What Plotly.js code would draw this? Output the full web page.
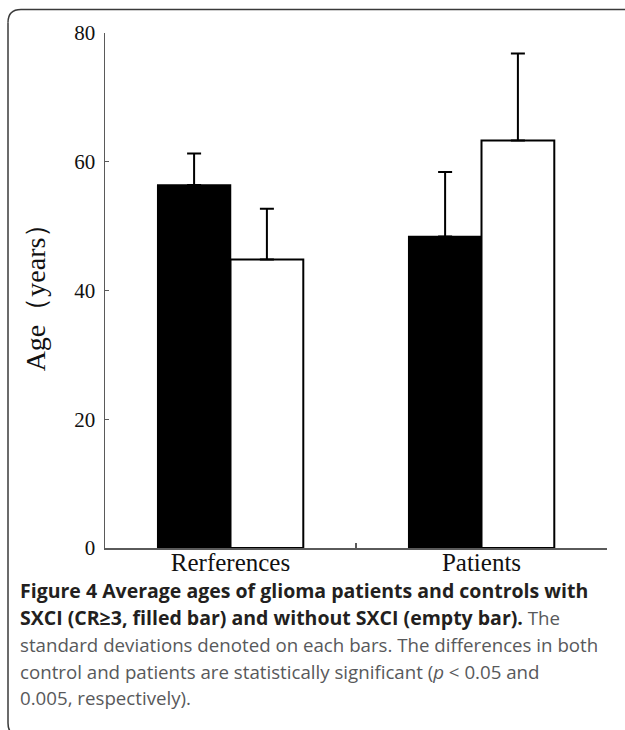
<!DOCTYPE html>
<html>
<head>
<meta charset="utf-8">
<script src="https://cdn.plot.ly/plotly-3.0.1.min.js"></script>
<style>
  html, body { margin: 0; padding: 0; background: #ffffff; overflow: hidden; }
  #chart { width: 625px; height: 730px; }
</style>
</head>
<body>
<div id="chart"></div>
<script>
// ---- data ----
const categories = ["Rerferences", "Patients"];
const withSXCI = [56.4, 48.4];       // filled bars
const withSXCI_sd = [4.9, 10.0];
const withoutSXCI = [44.8, 63.3];    // empty bars
const withoutSXCI_sd = [7.9, 13.5];
const noLower = [0, 0];
const yTicks = [0, 20, 40, 60, 80];

// caption lines
const B1 = "<span style='font-size:19.5px'><b>", B2 = "</b></span>";
const G1 = "<span style='color:#58595b'>", G2 = "</span>";
const captionLines = [
  B1 + "Figure 4 Average ages of glioma patients and controls with" + B2,
  B1 + "SXCI (CR\u22653, filled bar) and without SXCI (empty bar)." + B2 + " " + G1 + "The" + G2,
  G1 + "standard deviations denoted on each bars. The differences in both" + G2,
  G1 + "control and patients are statistically significant (<i>p</i> &lt; 0.05 and" + G2,
  G1 + "0.005, respectively)." + G2
];

// ---- layout geometry (pixels) ----
const W = 625, H = 730;
const L = 105, R = 607, T = 33, B = 548;
const px2x = p => (p - L) / (R - L);
const py2y = p => (B - p) / (B - T);

const captionY = [590, 617, 644, 671, 698];
const annotations = captionLines.map((txt, i) => ({
  xref: "paper", yref: "paper",
  x: px2x(18), y: py2y(captionY[i]),
  xanchor: "left", yanchor: "middle",
  text: txt, showarrow: false, align: "left",
  font: { family: "'Open Sans', 'Noto Sans', sans-serif", size: 18.7, color: "#231f20" }
}));

// rounded border: top and left edges with rounded corners (runs off canvas right/bottom)
const bl = 8, bt = 9.5, bb = 736, rad = 13;
const borderLine = { color: "#3a3a3a", width: 1.5 };
const shapes = [
  { type: "line", xref: "paper", yref: "paper", x0: px2x(bl + rad), y0: py2y(bt), x1: px2x(W), y1: py2y(bt), line: borderLine },
  { type: "line", xref: "paper", yref: "paper", x0: px2x(bl), y0: py2y(bt + rad), x1: px2x(bl), y1: py2y(bb - rad), line: borderLine },
  { type: "path", xref: "paper", yref: "paper", line: borderLine, fillcolor: "rgba(0,0,0,0)",
    path: `M ${px2x(bl + rad)},${py2y(bt)} Q ${px2x(bl)},${py2y(bt)} ${px2x(bl)},${py2y(bt + rad)}` },
  { type: "path", xref: "paper", yref: "paper", line: borderLine, fillcolor: "rgba(0,0,0,0)",
    path: `M ${px2x(bl)},${py2y(bb - rad)} Q ${px2x(bl)},${py2y(bb)} ${px2x(bl + rad)},${py2y(bb)}` }
];

const errStyle = { color: "#000000", thickness: 2, width: 7 };

const traces = [
  {
    type: "bar", name: "with SXCI", x: categories, y: withSXCI,
    marker: { color: "#000000", line: { color: "#000000", width: 1.5 } },
    error_y: Object.assign({ type: "data", array: withSXCI_sd, arrayminus: noLower, symmetric: false, visible: true }, errStyle)
  },
  {
    type: "bar", name: "without SXCI", x: categories, y: withoutSXCI,
    marker: { color: "#ffffff", line: { color: "#000000", width: 2 } },
    error_y: Object.assign({ type: "data", array: withoutSXCI_sd, arrayminus: noLower, symmetric: false, visible: true }, errStyle)
  }
];

const serif = "'Liberation Serif', 'Times New Roman', serif";

const layout = {
  width: W, height: H,
  margin: { l: L, r: W - R, t: T, b: H - B, pad: 0 },
  paper_bgcolor: "#ffffff", plot_bgcolor: "#ffffff",
  showlegend: false,
  barmode: "group", bargap: 0.42, bargroupgap: 0,
  xaxis: {
    type: "category",
    showline: true, linecolor: "#5a5a5a", linewidth: 1.5,
    ticks: "inside", tickson: "boundaries", ticklen: 5, tickwidth: 1.2, tickcolor: "#5a5a5a",
    showgrid: false, zeroline: false,
    tickfont: { family: serif, size: 25, color: "#111111" },
    ticklabelstandoff: -9,
    automargin: false
  },
  yaxis: {
    range: [0, 80], tickvals: yTicks, ticktext: yTicks.map(String),
    showline: true, linecolor: "#5a5a5a", linewidth: 1.5,
    ticks: "inside", ticklen: 4, tickwidth: 1.2, tickcolor: "#5a5a5a",
    showgrid: false, zeroline: false,
    tickfont: { family: serif, size: 21, color: "#111111" },
    ticklabelstandoff: 4,
    title: { text: "Age\uFF08years\uFF09", font: { family: serif, size: 28, color: "#111111" }, standoff: 20 },
    automargin: false
  },
  shapes: shapes,
  annotations: annotations
};

Plotly.newPlot("chart", traces, layout, { staticPlot: true, displayModeBar: false });
</script>
</body>
</html>
